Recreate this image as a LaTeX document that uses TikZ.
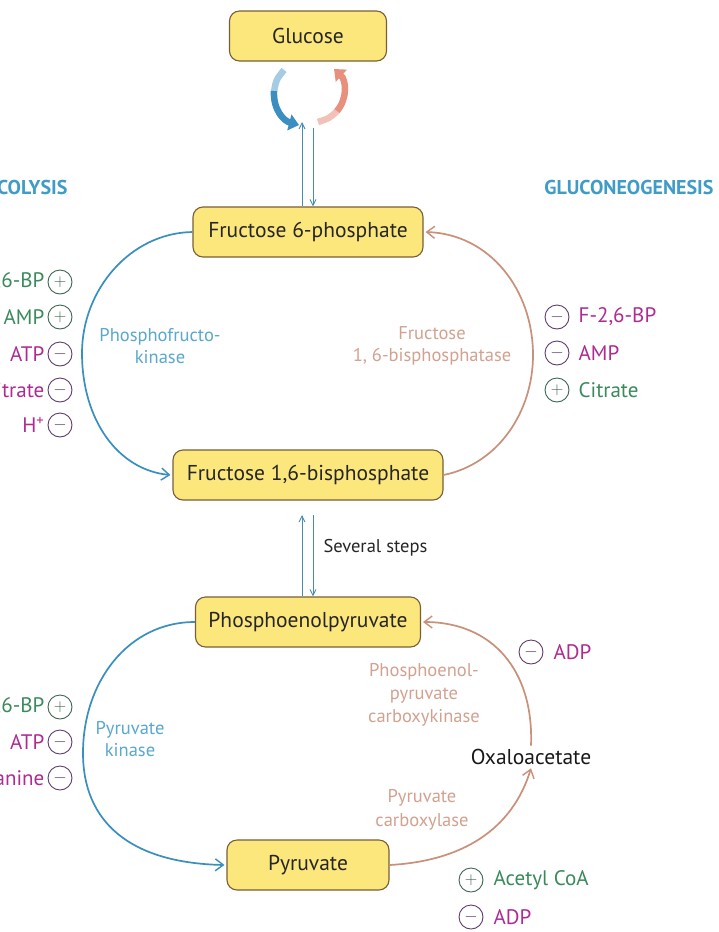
\documentclass[tikz,border=0pt]{standalone}
\usepackage{fontspec}
\setmainfont{PT Sans}
\usetikzlibrary{arrows.meta}
\definecolor{boxfill}{HTML}{FCE77C}
\definecolor{boxline}{HTML}{7A5E36}
\definecolor{gblue}{HTML}{3A8FBE}
\definecolor{nsalmon}{HTML}{C9907A}
\definecolor{lblue}{HTML}{5AA8CC}
\definecolor{lsalmon}{HTML}{D2A290}
\definecolor{actgreen}{HTML}{3A8A5C}
\definecolor{inhmag}{HTML}{B02A92}
\definecolor{plusline}{HTML}{3E6650}
\definecolor{minusline}{HTML}{5E3C6E}
\definecolor{headblue}{HTML}{3E9CC6}
\definecolor{glblue}{HTML}{3A8EC0}
\definecolor{glred}{HTML}{E8907E}
\begin{document}
\begin{tikzpicture}[x=1pt,y=-1pt,
  metab/.style={draw=boxline, fill=boxfill, rounded corners=10, line width=1.1,
     font=\fontsize{21.5}{24}\selectfont, text=black!85, minimum height=50, inner sep=0},
  enz/.style={font=\fontsize{18.5}{22}\selectfont, align=center},
  head/.style={font=\fontsize{20}{23}\selectfont\bfseries, text=headblue},
  regtxt/.style={font=\fontsize{21}{24}\selectfont, inner xsep=1},
  psign/.style={circle, draw=plusline, line width=0.9, minimum size=24, inner sep=0,
     text=plusline, font=\fontsize{18}{18}\selectfont},
  msign/.style={circle, draw=minusline, line width=0.9, minimum size=24, inner sep=0,
     text=minusline, font=\fontsize{18}{18}\selectfont},
  glyarr/.style={gblue, line width=1.7, -{Straight Barb[length=8,width=12,line width=1.4]}},
  neoarr/.style={nsalmon, line width=1.7, -{Straight Barb[length=8,width=12,line width=1.4]}},
  thinarr/.style={gblue!80!gray, line width=0.9, -{Straight Barb[length=6,width=6]}}
]
\useasboundingbox (0,0) rectangle (719,932);
\clip (0,0) rectangle (719,932);
\fill[white] (0,0) rectangle (719,932);

% metabolite boxes
\node[metab, minimum width=157] (glc) at (308,36) {Glucose};
\node[metab, minimum width=230] (f6p) at (308,232) {Fructose 6-phosphate};
\node[metab, minimum width=270] (fbp) at (308,475) {Fructose 1,6-bisphosphate};
\node[metab, minimum width=225] (pep) at (308,622) {Phosphoenolpyruvate};
\node[metab, minimum width=162] (pyr) at (308,865) {Pyruvate};
\node[font=\fontsize{21.5}{24}\selectfont, text=black!90] (oaa) at (531,757) {Oxaloacetate};

% headers
\node[head, anchor=east] (glyhead) at (71,187) {GLYCOLYSIS};
\node[head, anchor=east] (neohead) at (717,187) {GLUCONEOGENESIS};

% glucose <-> F6P
\coordinate (gtopA) at (302,122);
\coordinate (gtopB) at (313,128);
\draw[thinarr] (f6p.north -| gtopA) -- (gtopA);
\draw[thinarr] (gtopB) -- (f6p.north -| gtopB);
\coordinate (bA) at (284,70);
\coordinate (bB) at (299,125);
\coordinate (rA) at (318,122);
\coordinate (rB) at (334,69);
\draw[glblue!45, line width=6.5] (bA) .. controls (276,80) .. (274,92);
\draw[glblue, line width=6.5, -{Triangle[length=10,width=16]}] (274,91) .. controls (273,110) and (284,121) .. (bB);
\draw[glred!55, line width=6.5] (rA) .. controls (330,118) .. (338,110);
\draw[glred, line width=6.5, -{Triangle[length=10,width=16]}] (337,111) .. controls (348,98) and (346,80) .. (rB);

% F16BP <-> PEP
\coordinate (sA) at (302,515);
\coordinate (sB) at (313,515);
\draw[thinarr] (pep.north -| sA) -- (sA);
\draw[thinarr] (sB) -- (pep.north -| sB);
\node[font=\fontsize{18.5}{22}\selectfont, text=black!85, anchor=west] (steps) at (320,548) {Several steps};

% top cycle
\draw[glyarr] (f6p.west) .. controls (130,233) and (82,290) .. (82,353)
   .. controls (82,420) and (118,470) .. ([xshift=-2]fbp.west);
\draw[neoarr] (fbp.east) .. controls (498,464) and (533,412) .. (533,355)
   .. controls (533,290) and (490,234) .. ([xshift=2]f6p.east);
\node[enz, text=lblue] (pfk) at (160,346) {Phosphofructo-\\kinase};
\node[enz, text=lsalmon] (fbpase) at (432,346) {Fructose\\1, 6-bisphosphatase};

% bottom cycle
\draw[glyarr] (pep.west) .. controls (128,622) and (83,682) .. (83,753)
   .. controls (83,822) and (130,863) .. ([xshift=-2]pyr.west);
\draw[neoarr] (pyr.east) .. controls (462,861) and (512,830) .. (oaa.south);
\draw[neoarr] (oaa.north) .. controls (534,670) and (492,622) .. ([xshift=2]pep.east);
\node[enz, text=lblue] (pk) at (130,739) {Pyruvate\\kinase};
\node[enz, text=lsalmon, font=\fontsize{18.5}{23}\selectfont] (pepck) at (424,695) {Phosphoenol-\\pyruvate\\carboxykinase};
\node[enz, text=lsalmon, font=\fontsize{18.5}{24}\selectfont] (pc) at (422,810) {Pyruvate\\carboxylase};

% regulators, top left
\node[psign] (r1s) at (60,282) {$+$};
\node[regtxt, text=actgreen, anchor=east] (r1) at ([xshift=-2]r1s.west) {F-2,6-BP};
\node[psign] (r2s) at (60,317) {$+$};
\node[regtxt, text=actgreen, anchor=east] (r2) at ([xshift=-2]r2s.west) {AMP};
\node[msign] (r3s) at (60,354) {$-$};
\node[regtxt, text=inhmag, anchor=east] (r3) at ([xshift=-2]r3s.west) {ATP};
\node[msign] (r4s) at (60,390) {$-$};
\node[regtxt, text=inhmag, anchor=east] (r4) at ([xshift=-2]r4s.west) {Citrate};
\node[msign] (r5s) at (60,425) {$-$};
\node[regtxt, text=inhmag, anchor=east] (r5) at ([xshift=-2]r5s.west) {H\textsuperscript{+}};

% regulators, top right
\node[msign] (q1s) at (557,317) {$-$};
\node[regtxt, text=inhmag, anchor=west] (q1) at ([xshift=8]q1s.east) {F-2,6-BP};
\node[msign] (q2s) at (557,353) {$-$};
\node[regtxt, text=inhmag, anchor=west] (q2) at ([xshift=8]q2s.east) {AMP};
\node[psign] (q3s) at (557,390) {$+$};
\node[regtxt, text=actgreen, anchor=west] (q3) at ([xshift=8]q3s.east) {Citrate};

% regulators, bottom left
\node[psign] (b1s) at (60,707) {$+$};
\node[regtxt, text=actgreen, anchor=east] (b1) at ([xshift=-2]b1s.west) {F-1,6-BP};
\node[msign] (b2s) at (60,742) {$-$};
\node[regtxt, text=inhmag, anchor=east] (b2) at ([xshift=-2]b2s.west) {ATP};
\node[msign] (b3s) at (60,778) {$-$};
\node[regtxt, text=inhmag, anchor=east] (b3) at ([xshift=-2]b3s.west) {Alanine};

% regulators, bottom right
\node[msign] (c1s) at (531,652) {$-$};
\node[regtxt, text=inhmag, anchor=west] (c1) at ([xshift=9]c1s.east) {ADP};
\node[psign] (c2s) at (471,880) {$+$};
\node[regtxt, text=actgreen, anchor=west] (c2) at ([xshift=9]c2s.east) {Acetyl CoA};
\node[msign] (c3s) at (471,917) {$-$};
\node[regtxt, text=inhmag, anchor=west] (c3) at ([xshift=9]c3s.east) {ADP};
\end{tikzpicture}
\end{document}
